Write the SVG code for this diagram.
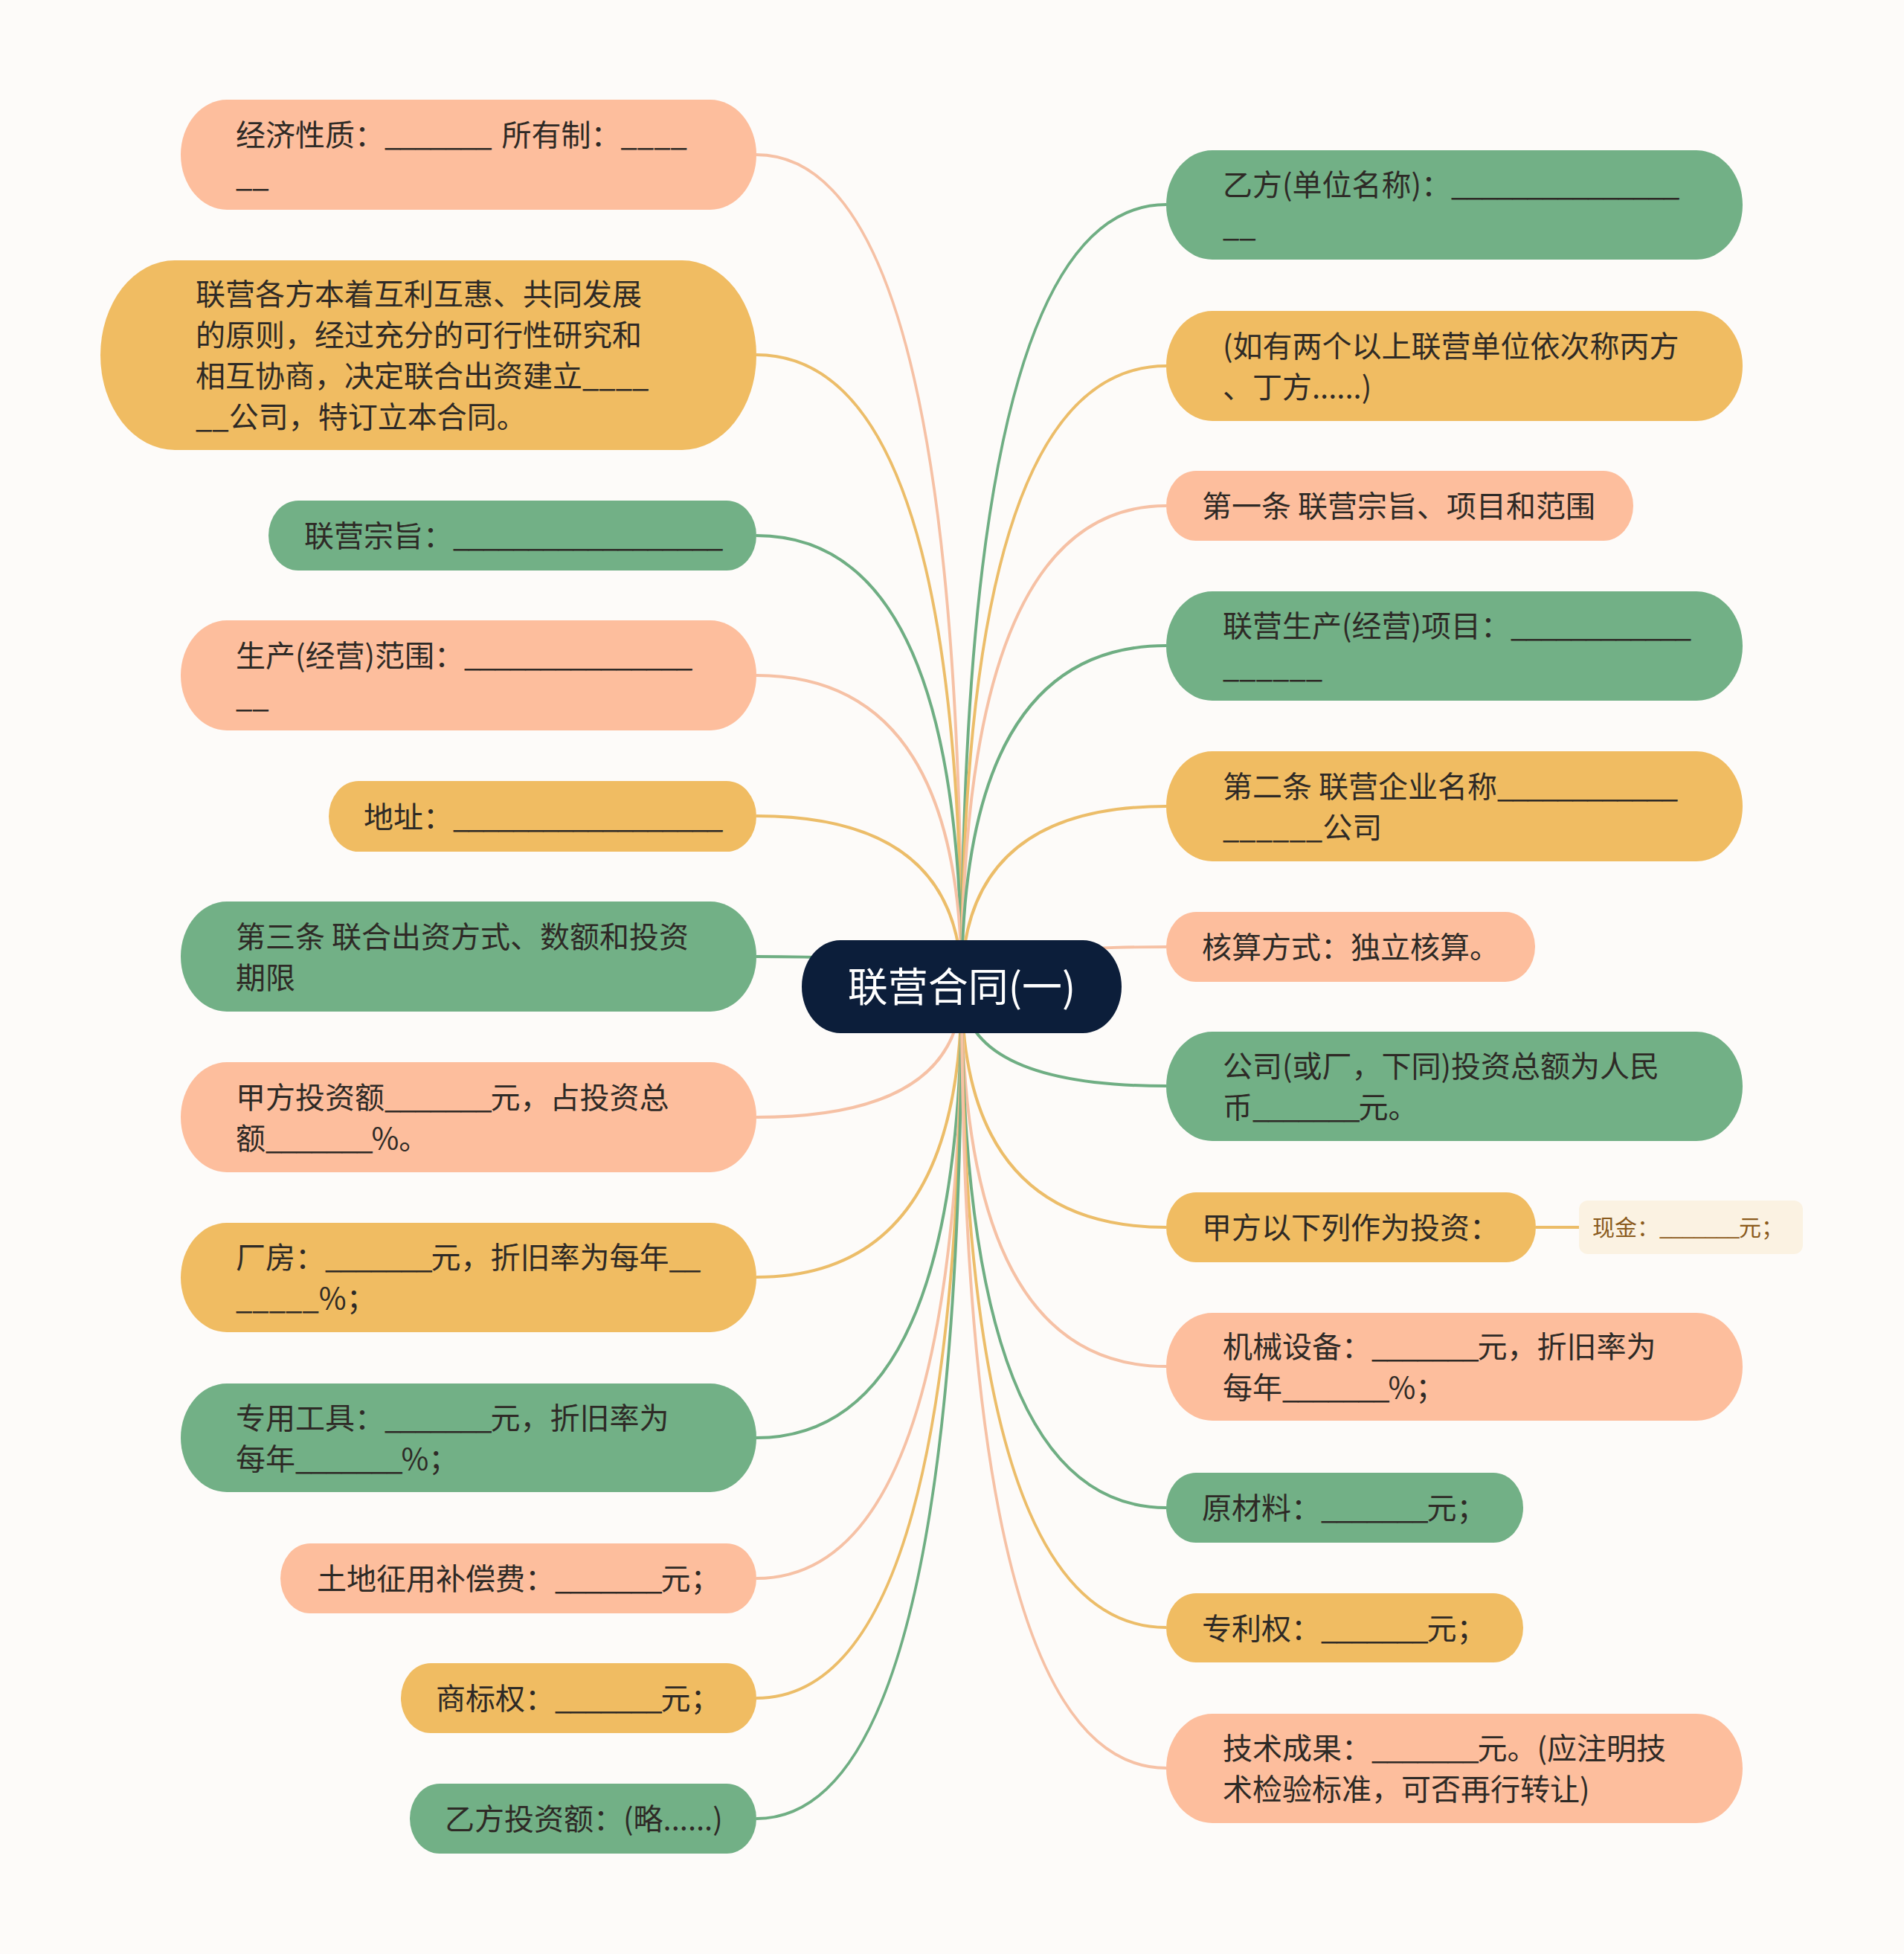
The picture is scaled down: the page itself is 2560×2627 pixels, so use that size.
<svg xmlns="http://www.w3.org/2000/svg" width="2560" height="2627" viewBox="0 0 2560 2627">
<style>
text{font-family:"Noto Sans CJK SC","Noto Sans",sans-serif;font-size:40px;fill:#2e2a26}
.s{fill:#fdbe9d}.y{fill:#f0bc62}.g{fill:#72b086}
.cs{stroke:#f6c1a5}.cy{stroke:#ecbd69}.cg{stroke:#6fae83}
#connectors path,#connectors line{fill:none;stroke-width:4}
.t{fill:#ffffff;font-size:54px}
.sub{fill:#8a5a1c;font-size:30px}
.u{letter-spacing:-2px}
.sub .u{letter-spacing:-1.5px}
</style>
<rect x="0" y="0" width="2560" height="2627" fill="#fdfbf9"/>
<g id="connectors">
<path class="cs" d="M1293 1326 Q1293 208 1017 208"/>
<path class="cy" d="M1293 1326 Q1293 477 1017 477"/>
<path class="cg" d="M1293 1326 Q1293 720 1017 720"/>
<path class="cs" d="M1293 1326 Q1293 908 1017 908"/>
<path class="cy" d="M1293 1326 Q1293 1097 1017 1097"/>
<path class="cg" d="M1293 1326 Q1293 1286 1017 1286"/>
<path class="cs" d="M1293 1326 Q1293 1502 1017 1502"/>
<path class="cy" d="M1293 1326 Q1293 1717 1017 1717"/>
<path class="cg" d="M1293 1326 Q1293 1933 1017 1933"/>
<path class="cs" d="M1293 1326 Q1293 2122 1017 2122"/>
<path class="cy" d="M1293 1326 Q1293 2283 1017 2283"/>
<path class="cg" d="M1293 1326 Q1293 2445 1017 2445"/>
<path class="cg" d="M1293 1326 Q1293 275 1568 275"/>
<path class="cy" d="M1293 1326 Q1293 492 1568 492"/>
<path class="cs" d="M1293 1326 Q1293 680 1568 680"/>
<path class="cg" d="M1293 1326 Q1293 868 1568 868"/>
<path class="cy" d="M1293 1326 Q1293 1084 1568 1084"/>
<path class="cs" d="M1293 1326 Q1293 1273 1568 1273"/>
<path class="cg" d="M1293 1326 Q1293 1460 1568 1460"/>
<path class="cy" d="M1293 1326 Q1293 1650 1568 1650"/>
<path class="cs" d="M1293 1326 Q1293 1837 1568 1837"/>
<path class="cg" d="M1293 1326 Q1293 2027 1568 2027"/>
<path class="cy" d="M1293 1326 Q1293 2188 1568 2188"/>
<path class="cs" d="M1293 1326 Q1293 2377 1568 2377"/>
<line class="cy" x1="2065" y1="1650" x2="2123" y2="1650"/>
</g>
<g id="center"><rect x="1078" y="1264" width="430" height="125" rx="52" ry="62.5" fill="#0c1e3a"/><text class="t" x="1293" y="1347" text-anchor="middle">联营合同(一)</text></g>
<g id="n-l1"><rect class="s" x="243" y="134" width="774" height="148" rx="62" ry="74"/><text x="317" y="195.5">经济性质：<tspan class="u">_______</tspan><tspan dx="6"> 所有制：____</tspan><tspan x="317" dy="55">__</tspan></text></g>
<g id="n-l2"><rect class="y" x="135" y="350" width="882" height="255" rx="100" ry="127.5"/><text x="263" y="410">联营各方本着互利互惠、共同发展<tspan x="263" dy="55">的原则，经过充分的可行性研究和</tspan><tspan x="263" dy="55">相互协商，决定联合出资建立____</tspan><tspan x="263" dy="55">__公司，特订立本合同。</tspan></text></g>
<g id="n-l3"><rect class="g" x="361" y="673" width="656" height="94" rx="40" ry="47"/><text x="409" y="735">联营宗旨：<tspan class="u" style="letter-spacing:-2.3px">__________________</tspan></text></g>
<g id="n-l4"><rect class="s" x="243" y="834" width="774" height="148" rx="62" ry="74"/><text x="317" y="895.5">生产(经营)范围：<tspan class="u">_______________</tspan><tspan x="317" dy="55">__</tspan></text></g>
<g id="n-l5"><rect class="y" x="442" y="1050" width="575" height="95" rx="40" ry="47.5"/><text x="489" y="1112.5">地址：<tspan class="u" style="letter-spacing:-2.3px">__________________</tspan></text></g>
<g id="n-l6"><rect class="g" x="243" y="1212" width="774" height="148" rx="62" ry="74"/><text x="317" y="1273.5">第三条 联合出资方式、数额和投资<tspan x="317" dy="55">期限</tspan></text></g>
<g id="n-l7"><rect class="s" x="243" y="1428" width="774" height="148" rx="62" ry="74"/><text x="317" y="1489.5">甲方投资额<tspan class="u">_______</tspan>元，占投资总<tspan x="317" dy="55">额<tspan class="u">_______</tspan>%。</tspan></text></g>
<g id="n-l8"><rect class="y" x="243" y="1644" width="774" height="147" rx="62" ry="73.5"/><text x="317" y="1705">厂房：<tspan class="u">_______</tspan>元，折旧率为每年<tspan class="u">__</tspan><tspan x="317" dy="55">_____%；</tspan></text></g>
<g id="n-l9"><rect class="g" x="243" y="1860" width="774" height="146" rx="62" ry="73"/><text x="317" y="1920.5">专用工具：<tspan class="u">_______</tspan>元，折旧率为<tspan x="317" dy="55">每年<tspan class="u">_______</tspan>%；</tspan></text></g>
<g id="n-l10"><rect class="s" x="377" y="2075" width="640" height="94" rx="40" ry="47"/><text x="426" y="2137">土地征用补偿费：<tspan class="u">_______</tspan>元；</text></g>
<g id="n-l11"><rect class="y" x="539" y="2236" width="478" height="94" rx="40" ry="47"/><text x="586" y="2298">商标权：<tspan class="u">_______</tspan>元；</text></g>
<g id="n-l12"><rect class="g" x="551" y="2398" width="466" height="94" rx="40" ry="47"/><text x="598" y="2460">乙方投资额：(略......)</text></g>
<g id="n-r1"><rect class="g" x="1568" y="202" width="775" height="147" rx="62" ry="73.5"/><text x="1644" y="263">乙方(单位名称)：<tspan class="u">_______________</tspan><tspan x="1644" dy="55">__</tspan></text></g>
<g id="n-r2"><rect class="y" x="1568" y="418" width="775" height="148" rx="62" ry="74"/><text x="1644" y="479.5">(如有两个以上联营单位依次称丙方<tspan x="1644" dy="55">、丁方......)</tspan></text></g>
<g id="n-r3"><rect class="s" x="1568" y="633" width="628" height="94" rx="40" ry="47"/><text x="1616" y="695">第一条 联营宗旨、项目和范围</text></g>
<g id="n-r4"><rect class="g" x="1568" y="795" width="775" height="147" rx="62" ry="73.5"/><text x="1644" y="856">联营生产(经营)项目：<tspan class="u" style="letter-spacing:-2.3px">____________</tspan><tspan x="1644" dy="55">______</tspan></text></g>
<g id="n-r5"><rect class="y" x="1568" y="1010" width="775" height="148" rx="62" ry="74"/><text x="1644" y="1071.5">第二条 联营企业名称<tspan class="u" style="letter-spacing:-2.3px">____________</tspan><tspan x="1644" dy="55">______公司</tspan></text></g>
<g id="n-r6"><rect class="s" x="1568" y="1226" width="496" height="94" rx="40" ry="47"/><text x="1616" y="1288">核算方式：独立核算。</text></g>
<g id="n-r7"><rect class="g" x="1568" y="1387" width="775" height="147" rx="62" ry="73.5"/><text x="1644" y="1448">公司(或厂，下同)投资总额为人民<tspan x="1644" dy="55">币<tspan class="u">_______</tspan>元。</tspan></text></g>
<g id="n-r8"><rect class="y" x="1568" y="1603" width="497" height="94" rx="40" ry="47"/><text x="1616" y="1665">甲方以下列作为投资：</text></g>
<g id="n-r8a"><rect x="2123" y="1614" width="301" height="72" rx="12" ry="12" fill="#fbf2e2"/><text class="sub" x="2141" y="1661">现金：<tspan class="u">_______</tspan>元；</text></g>
<g id="n-r9"><rect class="s" x="1568" y="1765" width="775" height="145" rx="62" ry="72.5"/><text x="1644" y="1825">机械设备：<tspan class="u">_______</tspan>元，折旧率为<tspan x="1644" dy="55">每年<tspan class="u">_______</tspan>%；</tspan></text></g>
<g id="n-r10"><rect class="g" x="1568" y="1980" width="480" height="94" rx="40" ry="47"/><text x="1616" y="2042">原材料：<tspan class="u">_______</tspan>元；</text></g>
<g id="n-r11"><rect class="y" x="1568" y="2142" width="480" height="93" rx="40" ry="46.5"/><text x="1616" y="2203.5">专利权：<tspan class="u">_______</tspan>元；</text></g>
<g id="n-r12"><rect class="s" x="1568" y="2304" width="775" height="147" rx="62" ry="73.5"/><text x="1644" y="2365">技术成果：<tspan class="u">_______</tspan>元。(应注明技<tspan x="1644" dy="55">术检验标准，可否再行转让)</tspan></text></g>
</svg>
